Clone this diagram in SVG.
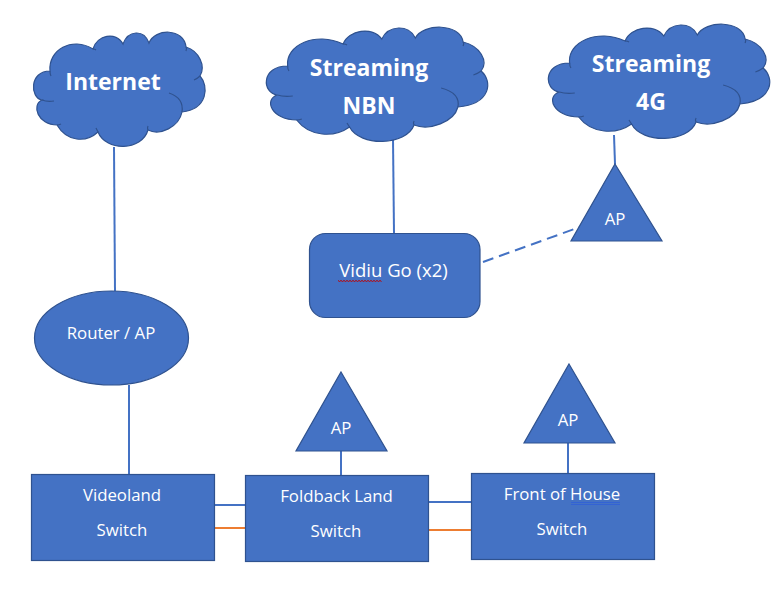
<svg xmlns="http://www.w3.org/2000/svg" xmlns:xlink="http://www.w3.org/1999/xlink" width="783" height="595" viewBox="0 0 783 595">
<style>
.s{fill:#4472c4;stroke:#2f528f;stroke-width:1.2}
.a{fill:none;stroke:#2f528f;stroke-width:1.2}
.c{fill:none;stroke:#4472c4;stroke-width:2}
.o{fill:none;stroke:#ed7d31;stroke-width:2}
.t{font-family:"Open Sans","Noto Sans",sans-serif;font-size:16.800px;fill:#fff;text-anchor:middle}
.b{font-family:"Open Sans","Noto Sans",sans-serif;font-size:23px;font-weight:700;fill:#fff;text-anchor:middle}
</style>
<defs>
<g id="cloud">
<path vector-effect="non-scaling-stroke" class="s" d="M50 71C48 50 72 36 93 49C97 35 116 31 123 44C128 30 144 29 149 43C155 28 184 28 186 47C199 51 206 66 200 76C209 86 208 109 182 112C179 127 160 136 148 130C142 151 106 152 98 132C86 143 67 142 57 125C38 125 31 105 42 100C30 98 29 71 50 71Z"/>
<path vector-effect="non-scaling-stroke" class="a" d="M50 71Q50 74 51 76M93 49Q95 49 96 50M186 47Q187 48 186 51M200 76Q198 78 194 80M182 112Q184 98 169 93M148 130Q147 128 148 126M98 132Q97 130 96 128M57 125Q59 125 61 124M42 100Q47 102 54 101"/>
</g>
</defs>
<g id="connectors">
<path class="c" d="M114 147L115 291"/>
<path class="c" d="M393 139L394 233"/>
<path class="c" d="M614 135L615 164"/>
<path class="c" d="M129 385V474"/>
<path class="c" d="M341 451V475"/>
<path class="c" d="M568 443V473"/>
<path class="c" d="M483 262L580 227" stroke-dasharray="11 6"/>
<path class="c" d="M215 505H245"/>
<path class="o" d="M215 528H245"/>
<path class="c" d="M429 502H471"/>
<path class="o" d="M429 530H471"/>
</g>
<g id="internet">
<use xlink:href="#cloud" href="#cloud"/>
<text class="b" x="113" y="90">Internet</text>
</g>
<g id="streaming-nbn">
<use xlink:href="#cloud" href="#cloud" transform="translate(267 -5) scale(1.29 1) translate(-34 0)"/>
<text class="b" x="369" y="76">Streaming</text>
<text class="b" x="369" y="114">NBN</text>
</g>
<g id="streaming-4g">
<use xlink:href="#cloud" href="#cloud" transform="translate(549 -8) scale(1.29 1) translate(-34 0)"/>
<text class="b" x="651" y="72">Streaming</text>
<text class="b" x="651" y="110">4G</text>
</g>
<g id="router-ap">
<ellipse class="s" cx="111.500" cy="338" rx="77" ry="47"/>
<text class="t" x="111" y="339">Router / AP</text>
</g>
<g id="vidiu-go">
<rect class="s" x="309.500" y="233.500" width="170.500" height="84" rx="16"/>
<text class="t" x="393.500" y="277" style="font-size:18.500px">Vidiu Go (x2)</text>
<path fill="none" stroke="#c00000" stroke-width="1" d="M338 280.500l1.500 1 1.500-1 1.500 1 1.500-1 1.500 1 1.500-1 1.500 1 1.500-1 1.500 1 1.500-1 1.500 1 1.500-1 1.500 1 1.500-1 1.500 1 1.500-1 1.500 1 1.500-1 1.500 1 1.500-1 1.500 1 1.500-1 1.500 1 1.500-1 1.500 1 1.500-1 1.500 1 1.500-1 1.500 1"/>
</g>
<g id="ap-4g">
<path class="s" d="M615 164L662 241H571Z"/>
<text class="t" x="615" y="225">AP</text>
</g>
<g id="ap-foldback">
<path class="s" d="M341 372L387 451H296Z"/>
<text class="t" x="341" y="434">AP</text>
</g>
<g id="ap-foh">
<path class="s" d="M569 364L615 443H524Z"/>
<text class="t" x="568" y="426">AP</text>
</g>
<g id="videoland-switch">
<rect class="s" x="31.500" y="474.500" width="183" height="86"/>
<text class="t" x="122" y="501">Videoland</text>
<text class="t" x="122" y="536">Switch</text>
</g>
<g id="foldback-switch">
<rect class="s" x="245.500" y="475.500" width="183" height="86"/>
<text class="t" x="336.500" y="502">Foldback Land</text>
<text class="t" x="336" y="537">Switch</text>
</g>
<g id="foh-switch">
<rect class="s" x="471.500" y="473.500" width="183" height="86"/>
<text class="t" x="562" y="500">Front of House</text>
<text class="t" x="562" y="535">Switch</text>
<path fill="none" stroke="#2f5fd8" stroke-width="0.800" d="M571 502.500H620M571 504.500H620"/>
</g>
</svg>
